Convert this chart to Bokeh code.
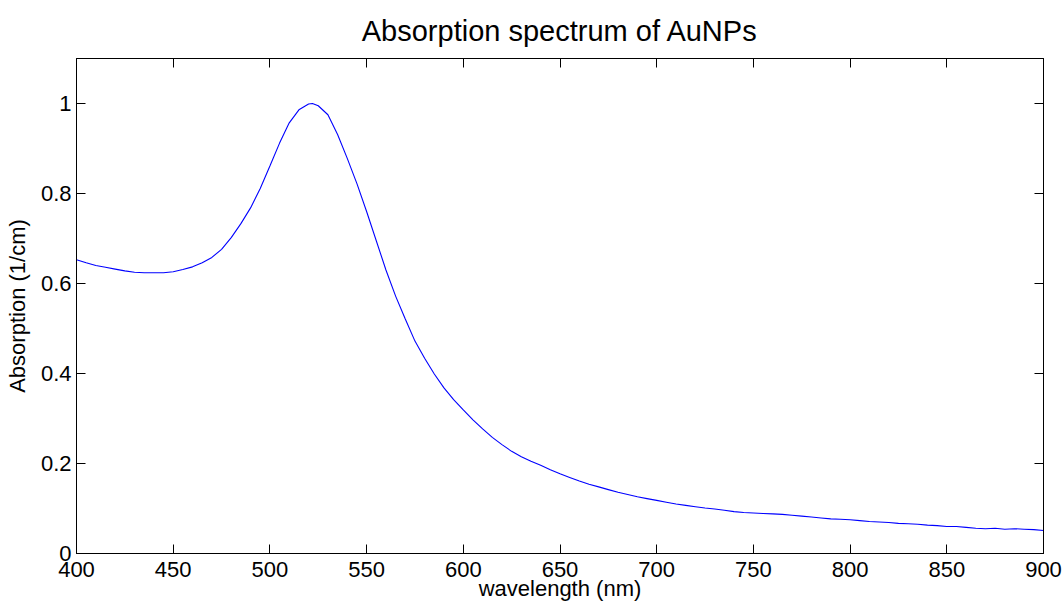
from bokeh.plotting import figure
from bokeh.models import Range1d, FixedTicker, LinearAxis, CustomLabelingPolicy
from bokeh.embed import file_html
from bokeh.resources import INLINE

# ---- data ----
wavelength = [400, 405, 410, 415, 420, 425, 430, 435, 440, 445, 450, 455, 460, 465, 470,
              475, 480, 485, 490, 495, 500, 505, 510, 515, 520, 522, 525, 530, 535, 540,
              545, 550, 555, 560, 565, 570, 575, 580, 585, 590, 595, 600, 605, 610, 615,
              620, 625, 630, 635, 640, 645, 650, 655, 660, 665, 670, 675, 680, 685, 690,
              695, 700, 705, 710, 715, 720, 725, 730, 735, 740, 745, 750, 755, 760, 765,
              770, 775, 780, 785, 790, 795, 800, 805, 810, 815, 820, 825, 830, 835, 840,
              845, 850, 855, 860, 865, 870, 875, 880, 885, 890, 895, 900]
absorption = [0.653, 0.646, 0.640, 0.636, 0.632, 0.628, 0.625, 0.624, 0.624, 0.624, 0.626,
              0.631, 0.637, 0.646, 0.658, 0.676, 0.702, 0.733, 0.768, 0.811, 0.861, 0.912,
              0.957, 0.986, 0.999, 1.000, 0.995, 0.975, 0.931, 0.878, 0.822, 0.760, 0.695,
              0.630, 0.572, 0.521, 0.472, 0.434, 0.399, 0.368, 0.342, 0.319, 0.297, 0.277,
              0.258, 0.242, 0.227, 0.215, 0.205, 0.196, 0.186, 0.177, 0.169, 0.161, 0.154,
              0.148, 0.142, 0.136, 0.131, 0.126, 0.122, 0.118, 0.114, 0.110, 0.107, 0.104,
              0.101, 0.099, 0.096, 0.093, 0.091, 0.090, 0.089, 0.088, 0.087, 0.085, 0.083,
              0.081, 0.079, 0.077, 0.076, 0.075, 0.073, 0.071, 0.070, 0.069, 0.067, 0.066,
              0.065, 0.063, 0.062, 0.060, 0.060, 0.058, 0.056, 0.055, 0.056, 0.054, 0.055,
              0.054, 0.053, 0.051]

x_ticks = [400, 450, 500, 550, 600, 650, 700, 750, 800, 850, 900]
y_ticks = [0, 0.2, 0.4, 0.6, 0.8, 1]
y_tick_labels = ["0", "0.2", "0.4", "0.6", "0.8", "1"]

title_text = "Absorption spectrum of AuNPs"
x_label = "wavelength (nm)"
y_label = "Absorption (1/cm)"

FONT = "Liberation Sans"

p = figure(width=1064, height=609, output_backend="svg", toolbar_location=None,
           x_range=Range1d(400, 900), y_range=Range1d(0, 1.1),
           min_border_left=76, min_border_right=21, min_border_top=57, min_border_bottom=56)

p.title.text = title_text
p.title.align = "center"
p.title.text_font = FONT
p.title.text_font_size = "29px"
p.title.text_font_style = "normal"
p.title.text_color = "black"
p.title.standoff = 24

p.grid.visible = False
p.background_fill_color = "white"
p.border_fill_color = "white"
p.outline_line_color = "black"
p.outline_line_width = 1

p.line(wavelength, absorption, line_color="#0000ff", line_width=1.1)

def style_axis(ax):
    ax.axis_line_color = "black"
    ax.major_tick_line_color = "black"
    ax.major_tick_in = 9
    ax.major_tick_out = 0
    ax.minor_tick_line_color = None
    ax.major_label_text_font = FONT
    ax.major_label_text_color = "black"
    ax.major_label_text_font_size = "22px"
    ax.axis_label_text_font = FONT
    ax.axis_label_text_font_style = "normal"
    ax.axis_label_text_color = "black"
    ax.axis_label_text_font_size = "22px"

xa = p.xaxis[0]
ya = p.yaxis[0]
xa.ticker = FixedTicker(ticks=x_ticks)
ya.ticker = FixedTicker(ticks=y_ticks)
ya.major_label_overrides = {t: s for t, s in zip(y_ticks, y_tick_labels)}
style_axis(xa)
style_axis(ya)
xa.axis_label = x_label
ya.axis_label = y_label
xa.major_label_standoff = 8
ya.major_label_standoff = 5
xa.axis_label_standoff = -4
ya.axis_label_standoff = 8

# mirrored tick marks on top and right, without labels
no_labels = CustomLabelingPolicy(code="return new Set()")
top = LinearAxis(ticker=FixedTicker(ticks=x_ticks), major_label_policy=no_labels)
right = LinearAxis(ticker=FixedTicker(ticks=y_ticks), major_label_policy=no_labels)
style_axis(top)
style_axis(right)
for ax in (top, right):
    ax.major_label_text_font_size = "0px"
    ax.major_label_standoff = 0
p.add_layout(top, "above")
p.add_layout(right, "right")

open("out.html", "w").write(file_html(p, INLINE))
